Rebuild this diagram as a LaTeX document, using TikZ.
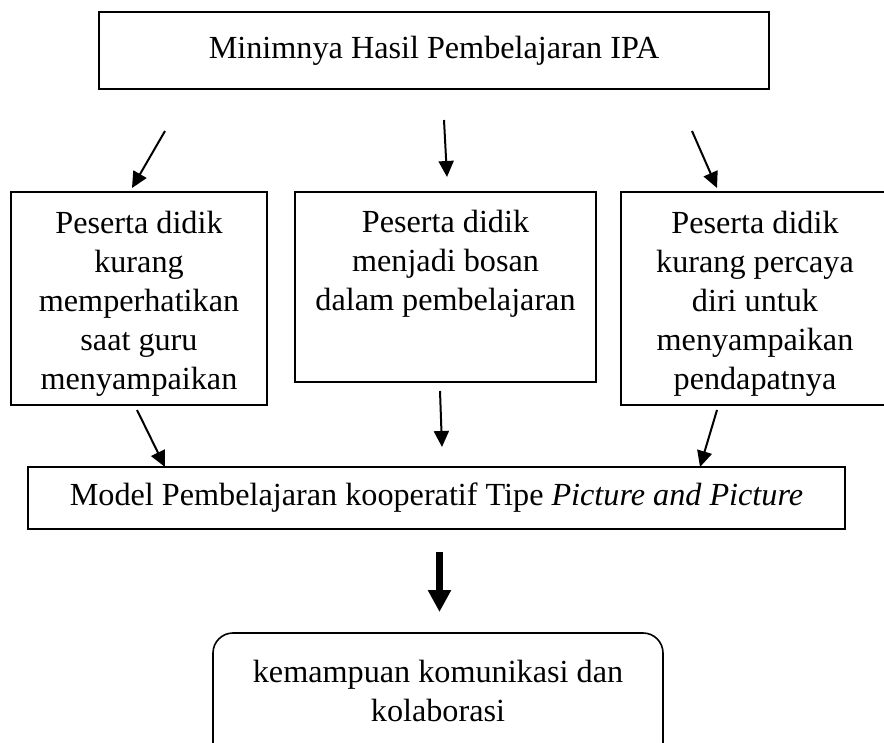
\documentclass[tikz,border=0pt]{standalone}
\usepackage{fontspec}
\setmainfont{Liberation Serif}
\usetikzlibrary{arrows.meta}

\tikzset{
  kotak/.style={draw, line width=0.8pt, inner sep=0pt},
  isi/.style={align=center, inner sep=0pt, font=\fontsize{16.1}{19.5}\selectfont},
  panah/.style={line width=1pt, -{Triangle[length=8pt,width=7.5pt]}},
  panahtebal/.style={line width=3.5pt, -{Triangle[length=11pt,width=11pt]}},
}

\begin{document}
\begin{tikzpicture}[x=0.5pt, y=-0.5pt]
\useasboundingbox (0,0) rectangle (884,743);

% masalah
\node[kotak, isi, minimum width=335pt, minimum height=38.5pt] (masalah) at (434,50.5)
                        {Minimnya Hasil Pembelajaran IPA};

% penyebab
\node[kotak, minimum width=128pt, minimum height=106.5pt] (kiri) at (139,298.5) {};
\node[kotak, minimum width=150.5pt, minimum height=95pt] (tengah) at (445.5,287) {};
\node[kotak, minimum width=134pt, minimum height=106.5pt] (kanan) at (755,298.5) {};

\node[isi, anchor=north] (kiriteks) at (139,211)
                        {Peserta didik\\kurang\\memperhatikan\\saat guru\\menyampaikan};
\node[isi, anchor=north] (tengahteks) at (445.5,210)
                        {Peserta didik\\menjadi bosan\\dalam pembelajaran};
\node[isi, anchor=north] (kananteks) at (755,211)
                        {Peserta didik\\kurang percaya\\diri untuk\\menyampaikan\\pendapatnya};

% model
\node[kotak, isi, minimum width=408.5pt, minimum height=31pt] (model) at (436.5,498)
                        {Model Pembelajaran kooperatif Tipe \textit{Picture and Picture}};

% hasil
\node[kotak, rounded corners=10pt, minimum width=225pt, minimum height=68.5pt] (hasil) at (438,701.5) {};
\node[isi, anchor=north] (hasilteks) at (438,660)
                        {kemampuan komunikasi dan\\kolaborasi};

% panah atas
\coordinate (p1a) at (165,131);
\coordinate (p1b) at (132,188);
\coordinate (p2a) at (444,120);
\coordinate (p2b) at (447,177);
\coordinate (p3a) at (692,131);
\coordinate (p3b) at (717,188);
\draw[panah] (p1a) -- (p1b);
\draw[panah] (p2a) -- (p2b);
\draw[panah] (p3a) -- (p3b);

% panah bawah
\coordinate (q1a) at (137,410);
\coordinate (q1b) at (165,467);
\coordinate (q2a) at (440,391);
\coordinate (q2b) at (442,447);
\coordinate (q3a) at (717,410);
\coordinate (q3b) at (700,467);
\draw[panah] (q1a) -- (q1b);
\draw[panah] (q2a) -- (q2b);
\draw[panah] (q3a) -- (q3b);

\coordinate (r1) at (439.5,552);
\coordinate (r2) at (439.5,612);
\draw[panahtebal] (r1) -- (r2);

\end{tikzpicture}
\end{document}
